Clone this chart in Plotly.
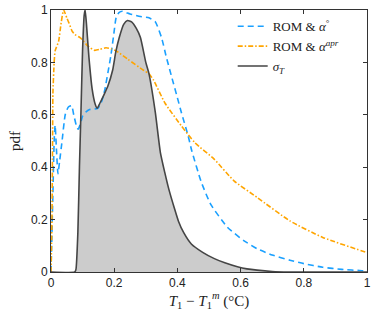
import plotly.graph_objects as go

# sigma_T (filled)
sig_x = [0, 0.075, 0.079, 0.085, 0.09, 0.095, 0.1, 0.105, 0.108, 0.112, 0.12, 0.13, 0.14, 0.146,
         0.155, 0.169, 0.18, 0.195, 0.205, 0.216, 0.23, 0.242, 0.255, 0.27, 0.283, 0.3, 0.31,
         0.33, 0.346, 0.36, 0.372, 0.39, 0.403, 0.42, 0.444, 0.48, 0.517, 0.55, 0.59, 0.62,
         0.652, 0.7, 0.75, 1.0]
sig_y = [0, 0, 0.01, 0.15, 0.4, 0.62, 0.85, 0.98, 1.0, 0.95, 0.82, 0.7, 0.64, 0.625,
         0.645, 0.68, 0.71, 0.77, 0.84, 0.895, 0.945, 0.96, 0.955, 0.93, 0.895, 0.8, 0.757,
         0.61, 0.457, 0.38, 0.32, 0.245, 0.195, 0.15, 0.107, 0.075, 0.051, 0.035, 0.02, 0.012,
         0.007, 0.002, 0, 0]

# ROM & alpha°
rom0_x = [0, 0.006, 0.01, 0.013, 0.018, 0.022, 0.027, 0.035, 0.045, 0.055, 0.065, 0.072, 0.08,
          0.086, 0.093, 0.1, 0.11, 0.122, 0.148, 0.16, 0.17, 0.18, 0.19, 0.2, 0.206, 0.215,
          0.226, 0.25, 0.283, 0.31, 0.33, 0.35, 0.365, 0.382, 0.4, 0.413, 0.434, 0.445, 0.475,
          0.506, 0.559, 0.61, 0.652, 0.7, 0.756, 0.8, 0.86, 0.92, 0.984, 1.0]
rom0_y = [0, 0.3, 0.5, 0.56, 0.45, 0.375, 0.42, 0.5, 0.6, 0.63, 0.635, 0.6, 0.56,
          0.545, 0.565, 0.595, 0.61, 0.62, 0.625, 0.65, 0.694, 0.76, 0.83, 0.92, 0.97, 0.99,
          0.995, 0.985, 0.975, 0.97, 0.955, 0.894, 0.82, 0.744, 0.665, 0.607, 0.52, 0.465, 0.345,
          0.257, 0.17, 0.12, 0.089, 0.065, 0.045, 0.032, 0.018, 0.01, 0.005, 0.004]

# ROM & alpha^apr
apr_x = [0, 0.003, 0.005, 0.006, 0.01, 0.013, 0.024, 0.032, 0.04, 0.05, 0.057, 0.067, 0.076,
         0.093, 0.117, 0.138, 0.155, 0.174, 0.19, 0.206, 0.242, 0.294, 0.31, 0.325, 0.361,
         0.413, 0.455, 0.517, 0.579, 0.652, 0.756, 0.86, 0.995, 1.0]
apr_y = [0, 0.2, 0.5, 0.68, 0.8, 0.844, 0.88, 0.95, 1.0, 0.97, 0.95, 0.919, 0.906,
         0.894, 0.862, 0.846, 0.85, 0.856, 0.852, 0.844, 0.813, 0.769, 0.757, 0.731, 0.644,
         0.557, 0.494, 0.43, 0.348, 0.285, 0.195, 0.132, 0.076, 0.074]

x_ticks = [0, 0.2, 0.4, 0.6, 0.8, 1]
x_labels = ["0", "0.2", "0.4", "0.6", "0.8", "1"]
y_ticks = [0, 0.2, 0.4, 0.6, 0.8, 1]
y_labels = ["0", "0.2", "0.4", "0.6", "0.8", "1"]

SERIF = "Liberation Serif, Times New Roman, serif"
SANS = "Liberation Sans, Arial, Helvetica, sans-serif"

fig = go.Figure()
# grey fill under sigma_T (no legend entry)
fig.add_trace(go.Scatter(x=sig_x, y=sig_y, mode="lines", showlegend=False, hoverinfo="skip",
                         fill="tozeroy", fillcolor="#CCCCCC",
                         line=dict(color="rgba(0,0,0,0)", width=0, shape="spline", smoothing=0.5)))
fig.add_trace(go.Scatter(x=rom0_x, y=rom0_y, mode="lines", name="ROM &amp; <i>α</i><sup>°</sup>",
                         line=dict(color="#1AA0FF", width=1.6, dash="6px,4px", shape="spline", smoothing=0.5)))
fig.add_trace(go.Scatter(x=apr_x, y=apr_y, mode="lines", name="ROM &amp; <i>α</i><sup><i>apr</i></sup>",
                         line=dict(color="#FFA500", width=1.6, dash="5px,2px,1.5px,2px", shape="spline", smoothing=0.5)))
fig.add_trace(go.Scatter(x=sig_x, y=sig_y, mode="lines", name="<i>σ</i><sub><i>T</i></sub>",
                         line=dict(color="#454545", width=1.6, shape="spline", smoothing=0.5)))

axis_common = dict(showgrid=False, zeroline=False, showline=True, linecolor="#333333", linewidth=1,
                   mirror="ticks", ticks="inside", ticklen=4, tickcolor="#333333",
                   ticklabeloverflow="allow",
                   tickfont=dict(family=SANS, size=12, color="#222222"))

fig.update_layout(
    width=374, height=316,
    margin=dict(l=51, r=3, t=5, b=44),
    paper_bgcolor="white", plot_bgcolor="white",
    xaxis=dict(range=[0, 1], tickvals=x_ticks, ticktext=x_labels,
               title=dict(text="<i>T</i><sub>1</sub> − <i>T</i><sub>1</sub><sup><i>m</i></sup> (°C)",
                          font=dict(family=SERIF, size=15, color="#222222"), standoff=4),
               **axis_common),
    yaxis=dict(range=[0, 1], tickvals=y_ticks, ticktext=y_labels,
               title=dict(text="pdf", font=dict(family=SERIF, size=15, color="#222222"), standoff=6),
               **axis_common),
    legend=dict(x=0.575, y=0.995, xanchor="left", yanchor="top", bgcolor="rgba(0,0,0,0)",
                font=dict(family=SERIF, size=13, color="#222222"), tracegroupgap=0, itemwidth=30),
    showlegend=True,
)

fig.write_html("out.html", config={"displayModeBar": False},
               post_script="document.body.style.margin='0';document.body.style.overflow='hidden';")
